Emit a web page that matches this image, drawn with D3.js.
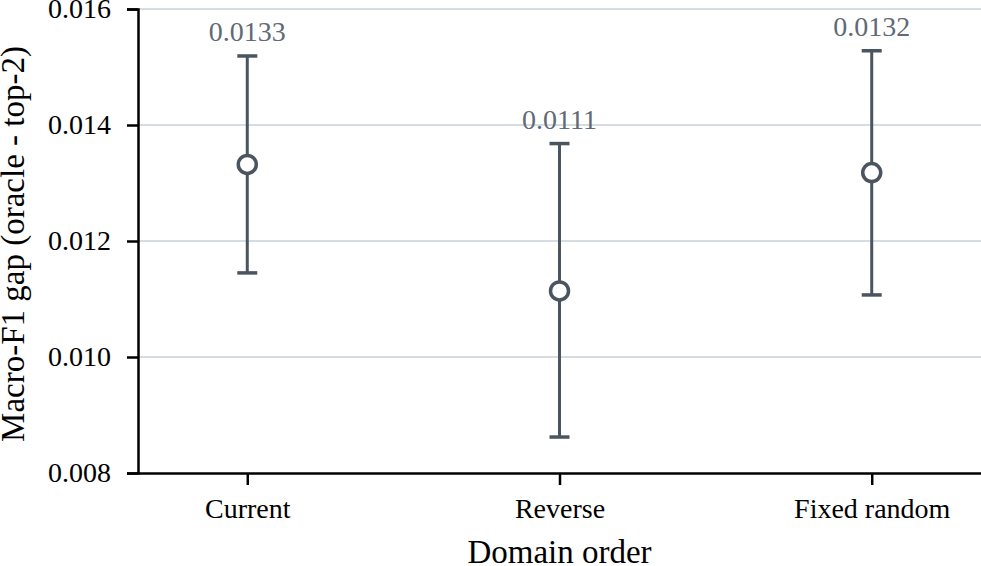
<!DOCTYPE html>
<html>
<head>
<meta charset="utf-8">
<script src="https://cdn.jsdelivr.net/npm/d3@7/dist/d3.min.js"></script>
<style>
  html, body { margin: 0; padding: 0; background: #fff; }
  svg { display: block; }
  text { font-family: "Liberation Serif", "Times New Roman", serif; }
</style>
</head>
<body>
<svg id="chart" width="981" height="566"></svg>
<script>
const categories = ["Current", "Reverse", "Fixed random"];
const means = [0.01332, 0.01114, 0.01318];
const lower = [0.01145, 0.00862, 0.01107];
const upper = [0.01519, 0.01368, 0.01528];
const yTicks = [0.008, 0.010, 0.012, 0.014, 0.016];
const xTitle = "Domain order";
const yTitle = "Macro-F1 gap (oracle - top-2)";

const W = 981, H = 566;
const margin = { left: 138, right: 0, top: 9, bottom: 93 };
const svg = d3.select("#chart");

const x = d3.scalePoint().domain(categories).range([margin.left, W - margin.right]).padding(0.35);
const y = d3.scaleLinear().domain([0.008, 0.016]).range([H - margin.bottom, margin.top]);

const barColor = "#4b5560";
const labelColor = "#5f6a76";

// gridlines
svg.append("g").selectAll("line").data(yTicks.filter(t => t > 0.008)).join("line")
  .attr("x1", margin.left).attr("x2", W)
  .attr("y1", d => y(d)).attr("y2", d => y(d))
  .attr("stroke", "#d6dde2").attr("stroke-width", 2);

// y axis
const yAxis = svg.append("g").attr("transform", `translate(${margin.left},0)`)
  .call(d3.axisLeft(y).tickValues(yTicks).tickFormat(d3.format(".3f")).tickSize(11).tickPadding(16));
yAxis.select(".domain").attr("stroke", "#000").attr("stroke-width", 2.5);
yAxis.selectAll(".tick line").attr("stroke", "#000").attr("stroke-width", 2.5);
yAxis.selectAll(".tick text").attr("font-size", 28).attr("fill", "#000")
  .style("font-family", "'Liberation Serif', serif");

// x axis
const xAxis = svg.append("g").attr("transform", `translate(0,${H - margin.bottom})`)
  .call(d3.axisBottom(x).tickSize(12).tickPadding(13).tickSizeOuter(0));
xAxis.select(".domain").attr("stroke", "#000").attr("stroke-width", 2.5);
xAxis.selectAll(".tick line").attr("stroke", "#000").attr("stroke-width", 2.5);
xAxis.selectAll(".tick text").attr("font-size", 28).attr("fill", "#000")
  .style("font-family", "'Liberation Serif', serif");

const data = categories.map((c, i) => ({ c, m: means[i], lo: lower[i], hi: upper[i] }));
const g = svg.append("g");
// error bar stems
g.selectAll(".stem").data(data).join("line")
  .attr("x1", d => x(d.c)).attr("x2", d => x(d.c))
  .attr("y1", d => y(d.lo)).attr("y2", d => y(d.hi))
  .attr("stroke", barColor).attr("stroke-width", 3);
// caps
["lo", "hi"].forEach(k => {
  g.selectAll(".cap-" + k).data(data).join("line")
    .attr("x1", d => x(d.c) - 10).attr("x2", d => x(d.c) + 10)
    .attr("y1", d => y(d[k])).attr("y2", d => y(d[k]))
    .attr("stroke", barColor).attr("stroke-width", 3.5);
});
// points
g.selectAll("circle").data(data).join("circle")
  .attr("cx", d => x(d.c)).attr("cy", d => y(d.m)).attr("r", 9)
  .attr("fill", "#fff").attr("stroke", barColor).attr("stroke-width", 3.5);
// value labels
g.selectAll(".val").data(data).join("text")
  .attr("x", d => x(d.c)).attr("y", d => y(d.hi) - 15)
  .attr("text-anchor", "middle").attr("font-size", 28).attr("fill", labelColor)
  .text(d => d3.format(".4f")(d.m));

// titles
svg.append("text").attr("x", x("Reverse")).attr("y", 563)
  .attr("text-anchor", "middle").attr("font-size", 33).attr("fill", "#000").text(xTitle);
svg.append("text").attr("transform", "translate(24,244) rotate(-90)")
  .attr("text-anchor", "middle").attr("font-size", 33).attr("fill", "#000").text(yTitle);
</script>
</body>
</html>
